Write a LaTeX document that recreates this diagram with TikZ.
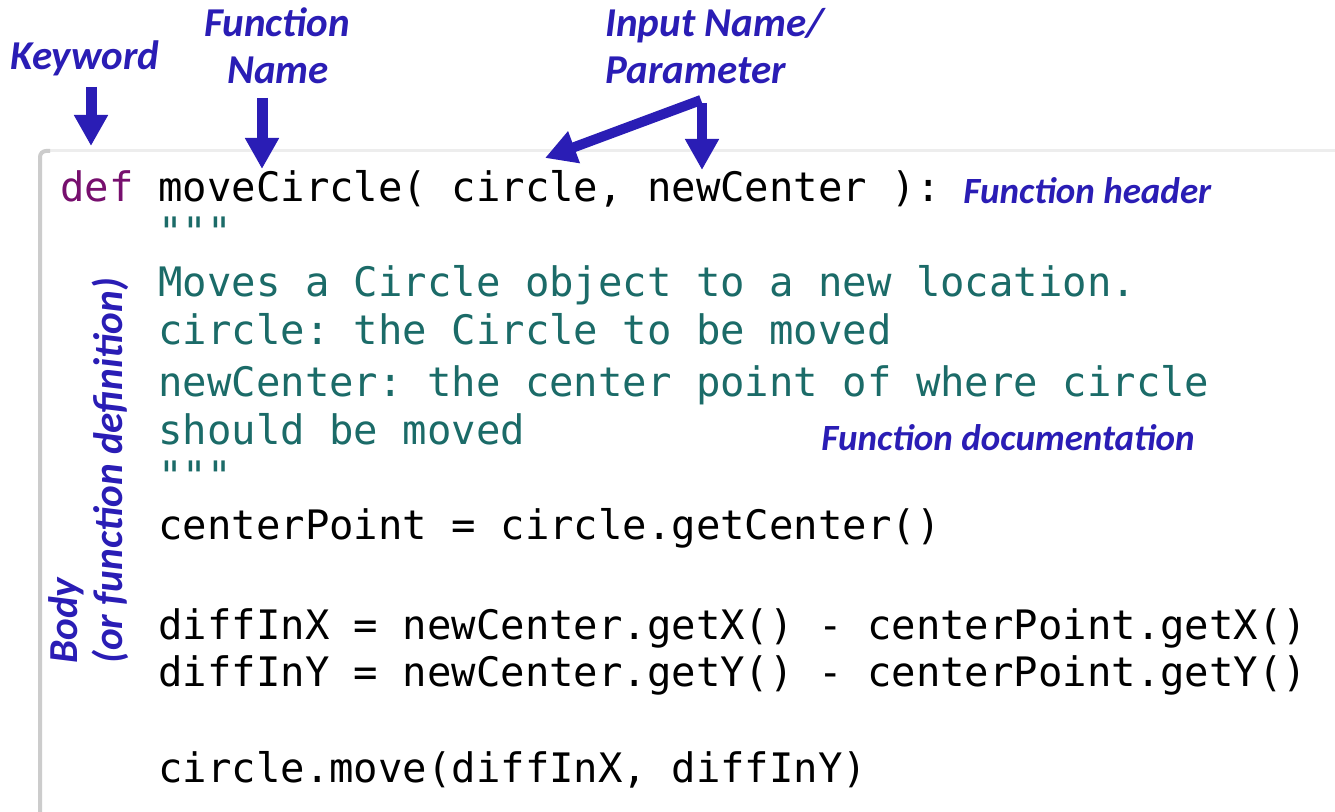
\documentclass[tikz,border=0pt]{standalone}
\usepackage{fontspec}
\setmonofont{DejaVu Sans Mono}
\newfontfamily\labfont{Carlito}
\usetikzlibrary{arrows.meta}
\definecolor{lblue}{HTML}{2A1DB5}
\definecolor{kwpurple}{HTML}{770F6E}
\definecolor{docteal}{HTML}{1B6B68}
\begin{document}
\begin{tikzpicture}[x=0.5pt,y=-0.5pt,
  code/.style={anchor=base west, inner sep=0pt, font=\ttfamily\fontsize{20.3}{24}\selectfont},
  doc/.style={code, text=docteal},
  lab/.style={inner sep=0pt, text=lblue, font=\labfont\bfseries\itshape\fontsize{20.5}{22.5}\selectfont},
  smalllab/.style={lab, font=\labfont\bfseries\itshape\fontsize{18.5}{22.5}\selectfont},
  bodylab/.style={lab, font=\labfont\bfseries\itshape\fontsize{20.6}{22.5}\selectfont},
  bigarrow/.style={draw=lblue, line width=5.5pt, line cap=butt, -{Triangle[length=15.5pt,width=16pt]}}]
\useasboundingbox (0,0) rectangle (1335,812);
\fill[white] (0,0) rectangle (1335,812);
% code box
\draw[black!7, line width=1.5pt] (44,151) -- (1340,151);
\draw[black!20, line width=2pt, rounded corners=3pt] (40,820) -- (40,151) -- (50,151);
% code
\node[code, text=kwpurple] (def) at (60,202) {def};
\node[code] (hdr) at (158,202) {moveCircle( circle, newCenter ):};
\node[doc] (q1) at (158,247) {"""};
\node[doc] (d1) at (158,297) {Moves a Circle object to a new location.};
\node[doc] (d2) at (158,345) {circle: the Circle to be moved};
\node[doc] (d3) at (158,397) {newCenter: the center point of where circle};
\node[doc] (d4) at (158,445) {should be moved};
\node[doc] (q2) at (158,491) {"""};
\node[code] (c1) at (158,540) {centerPoint = circle.getCenter()};
\node[code] (c2) at (158,640) {diffInX = newCenter.getX() - centerPoint.getX()};
\node[code] (c3) at (158,687) {diffInY = newCenter.getY() - centerPoint.getY()};
\node[code] (c4) at (158,783) {circle.move(diffInX, diffInY)};
% labels
\node[lab, anchor=base] (kw) at (85,70) {Keyword};
\node[lab, anchor=base] (fn1) at (277,37) {Function};
\node[lab, anchor=base] (fn2) at (278,84) {Name};
\node[lab, anchor=base west] (in1) at (605,37) {Input Name/};
\node[lab, anchor=base west] (in2) at (605,84) {Parameter};
\node[smalllab, anchor=base west] (fh) at (963,204) {Function header};
\node[smalllab, anchor=base west] (fd) at (821,451) {Function documentation};
\node[bodylab, rotate=90, align=left, anchor=north west] (body) at (48,664) {Body\\(or function definition)};
% arrows
\coordinate (kwA) at (91,87);
\coordinate (kwB) at (91,146);
\coordinate (fnA) at (262,98);
\coordinate (fnB) at (262,169);
\coordinate (ipJ) at (701,100);
\coordinate (ipJd) at (702,103);
\coordinate (ipL) at (545,158);
\coordinate (ipD) at (702,170);
\draw[bigarrow] (kwA) -- (kwB);
\draw[bigarrow] (fnA) -- (fnB);
\draw[bigarrow, line width=5pt] (ipJ) -- (ipL);
\draw[bigarrow, line width=5pt] (ipJd) -- (ipD);
\end{tikzpicture}
\end{document}
